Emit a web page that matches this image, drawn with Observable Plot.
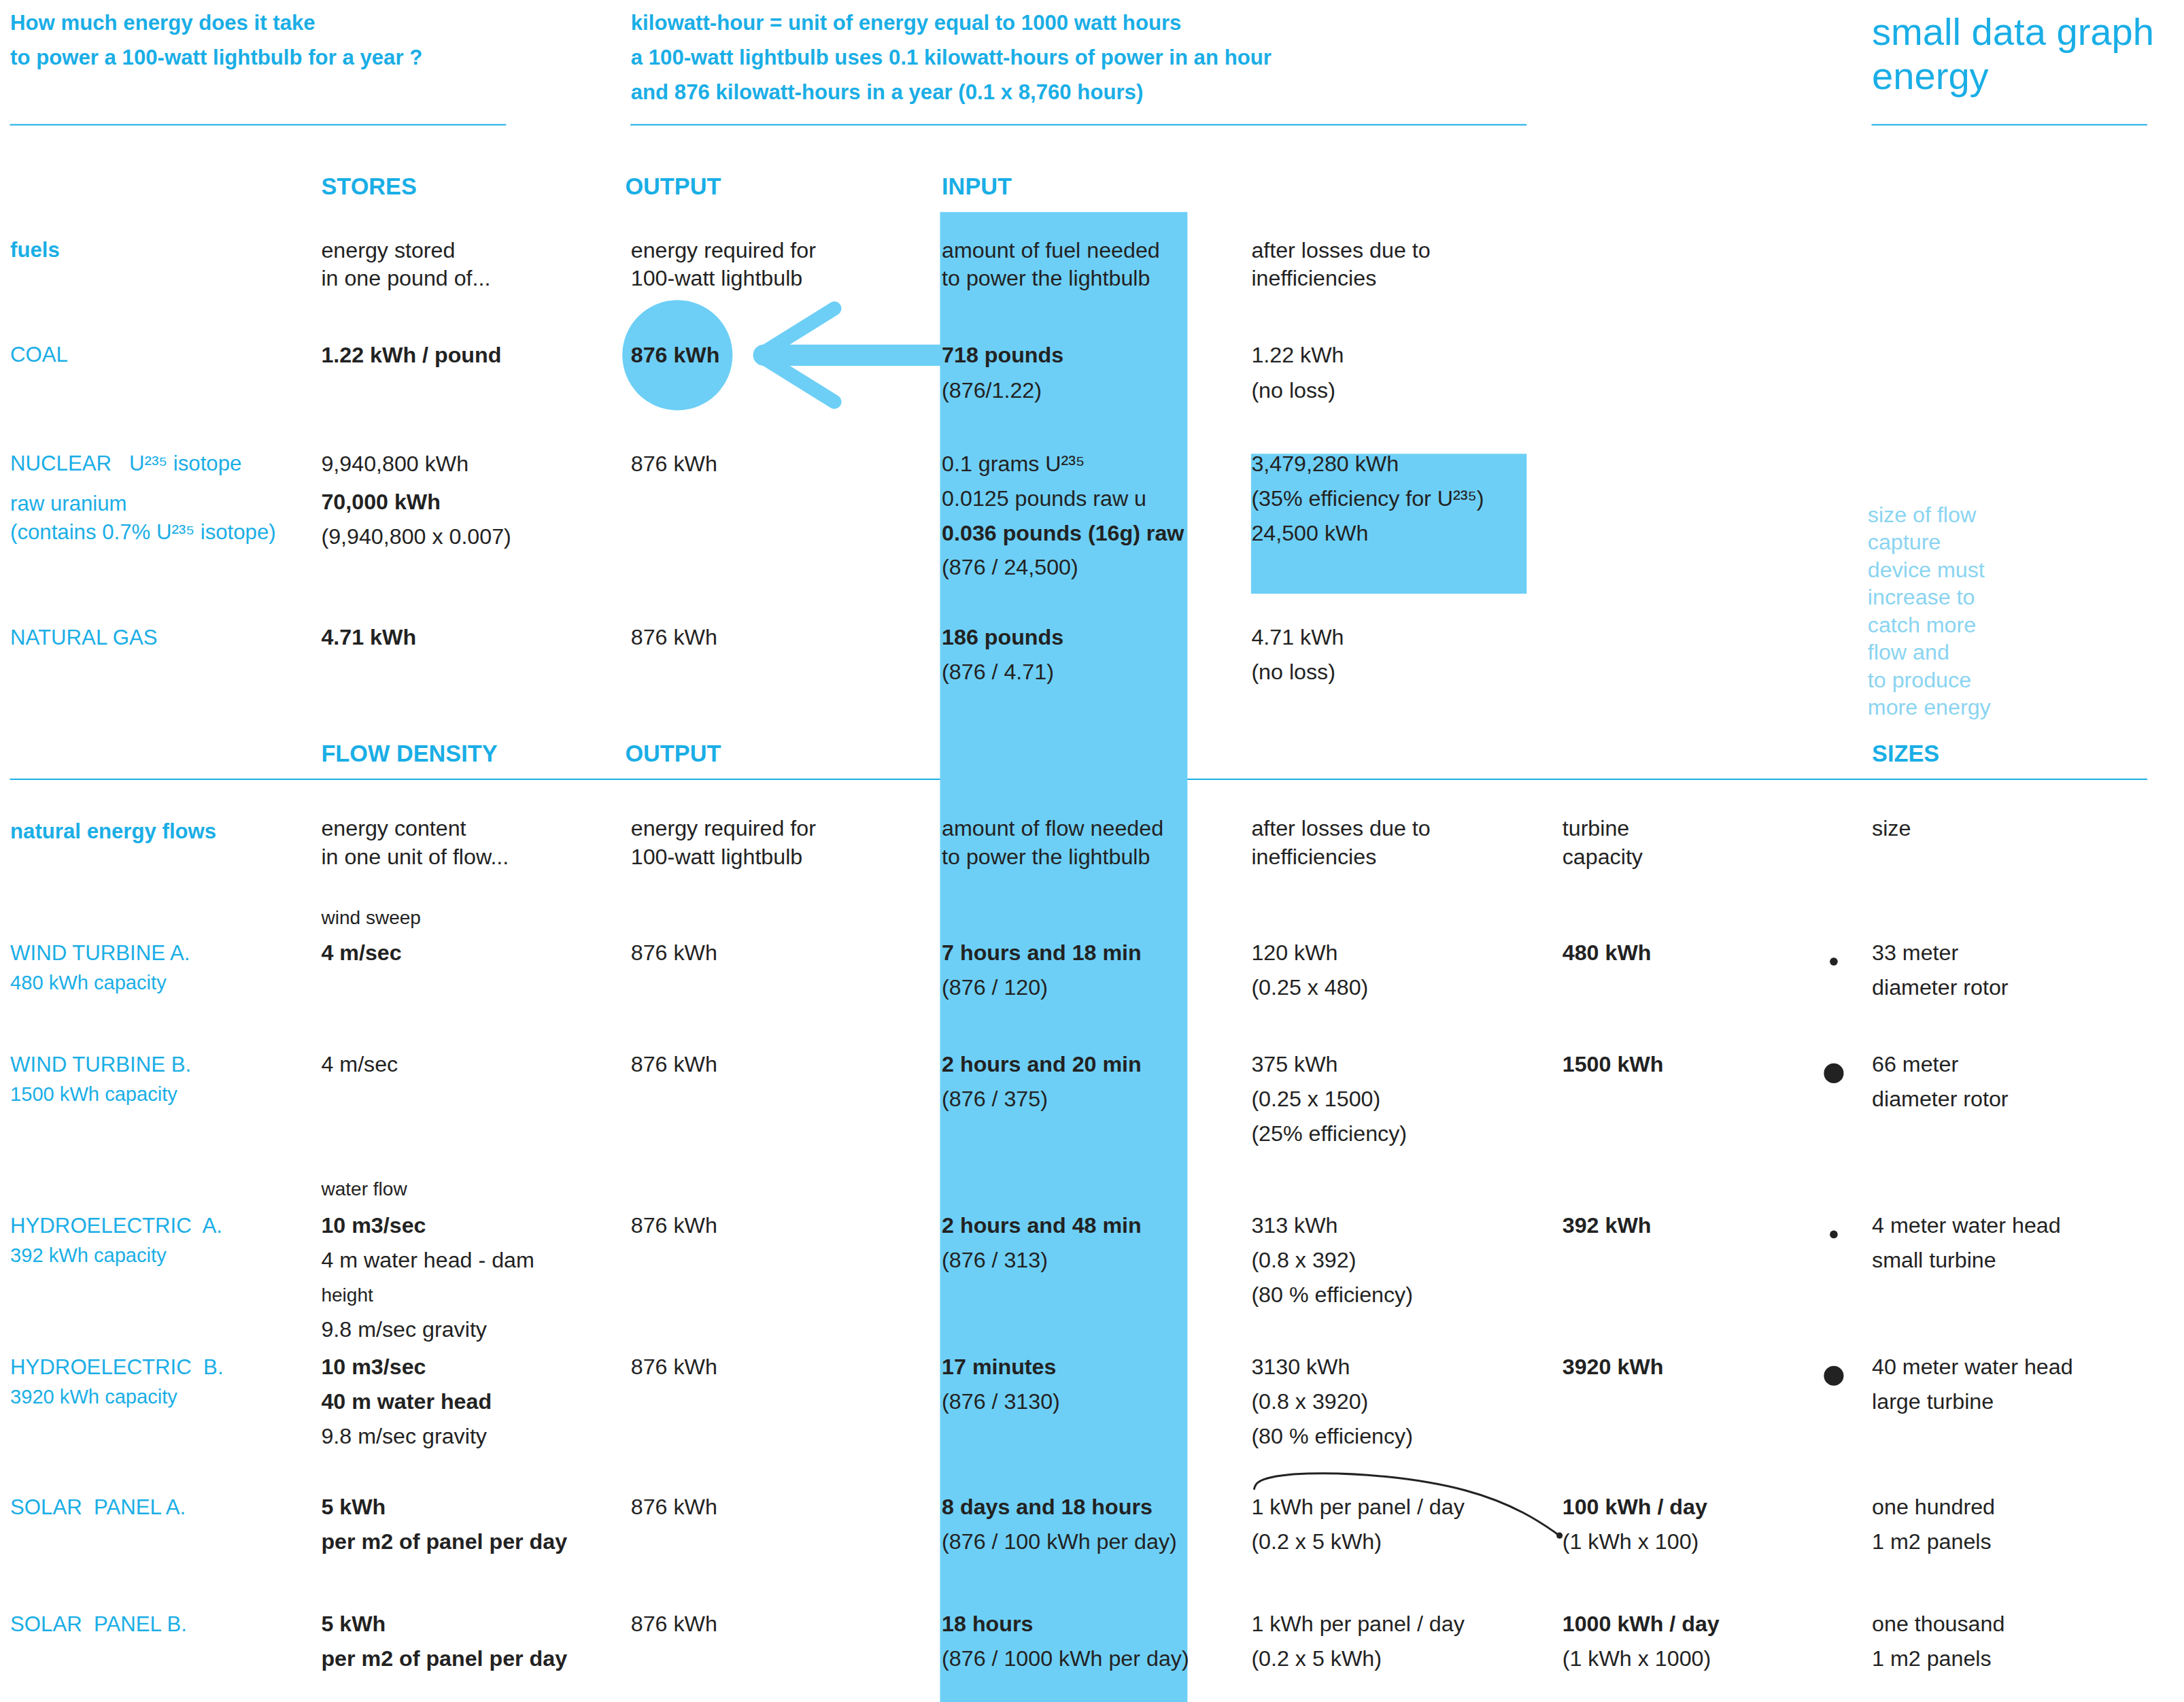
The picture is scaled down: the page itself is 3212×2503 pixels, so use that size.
<!DOCTYPE html>
<html>
<head>
<meta charset="utf-8">
<script src="https://cdn.jsdelivr.net/npm/d3@7"></script>
<script src="https://cdn.jsdelivr.net/npm/@observablehq/plot@0.6"></script>
<style>
  body { margin: 0; background: #fff; }
</style>
</head>
<body>
<div id="chart"></div>
<script>
// layout in a 1545-wide design space, scaled up to the page
const colX = {lab: 7, st: 227, out: 446, inp: 666, loss: 885, tur: 1105, size: 1324, side: 1321, mid: 446, outH: 442};
const rowY = {top: 16, hdr1: 132, r1: 177, coal: 251, nuc: 328, gas: 451, side: 364, hdr2: 533,
  r6: 586, ws: 649, wa: 674, wb: 753, wf: 841, ha: 867, hb: 967, sa: 1066, sb: 1149, brand: 23};
const rowGap = {top: 24.5, hdr1: 0, r1: 20, coal: 25, nuc: 24.5, gas: 24.5, side: 19.5, hdr2: 0,
  r6: 20, ws: 0, wa: 24.5, wb: 24.5, wf: 0, ha: 24.5, hb: 24.5, sa: 24.5, sb: 24.5, brand: 31};

// [row, column, line, text, kind]  kind: n normal, b bold, l blue label, lb blue bold, s small, t light blue
const cells = [
  ["top","lab",0,"How much energy does it take","lb"],
  ["top","lab",1,"to power a 100-watt lightbulb for a year ?","lb"],
  ["top","mid",0,"kilowatt-hour = unit of energy equal to 1000 watt hours","lb"],
  ["top","mid",1,"a 100-watt lightbulb uses 0.1 kilowatt-hours of power in an hour","lb"],
  ["top","mid",2,"and 876 kilowatt-hours in a year (0.1 x 8,760 hours)","lb"],
  ["hdr1","st",0,"STORES","hb"],["hdr1","outH",0,"OUTPUT","hb"],["hdr1","inp",0,"INPUT","hb"],
  ["r1","lab",0,"fuels","lb"],
  ["r1","st",0,"energy stored","n"],["r1","st",1,"in one pound of...","n"],
  ["r1","out",0,"energy required for","n"],["r1","out",1,"100-watt lightbulb","n"],
  ["r1","inp",0,"amount of fuel needed","n"],["r1","inp",1,"to power the lightbulb","n"],
  ["r1","loss",0,"after losses due to","n"],["r1","loss",1,"inefficiencies","n"],
  ["coal","lab",0,"COAL","l"],["coal","st",0,"1.22 kWh / pound","b"],["coal","out",0,"876 kWh","b"],
  ["coal","inp",0,"718 pounds","b"],["coal","inp",1,"(876/1.22)","n"],
  ["coal","loss",0,"1.22 kWh","n"],["coal","loss",1,"(no loss)","n"],
  ["nuc","lab",0,"NUCLEAR   U²³⁵ isotope","l"],["nuc","lab",1.15,"raw uranium","l"],["nuc","lab",1.97,"(contains 0.7% U²³⁵ isotope)","l"],
  ["nuc","st",0,"9,940,800 kWh","n"],["nuc","st",1.1,"70,000 kWh","b"],["nuc","st",2.1,"(9,940,800 x 0.007)","n"],
  ["nuc","out",0,"876 kWh","n"],
  ["nuc","inp",0,"0.1 grams U²³⁵","n"],["nuc","inp",1,"0.0125 pounds raw u","n"],
  ["nuc","inp",2,"0.036 pounds (16g) raw","b"],["nuc","inp",3,"(876 / 24,500)","n"],
  ["nuc","loss",0,"3,479,280 kWh","n"],["nuc","loss",1,"(35% efficiency for U²³⁵)","n"],["nuc","loss",2,"24,500 kWh","n"],
  ["gas","lab",0,"NATURAL GAS","l"],["gas","st",0,"4.71 kWh","b"],["gas","out",0,"876 kWh","n"],
  ["gas","inp",0,"186 pounds","b"],["gas","inp",1,"(876 / 4.71)","n"],
  ["gas","loss",0,"4.71 kWh","n"],["gas","loss",1,"(no loss)","n"],
  ["side","side",0,"size of flow","t"],["side","side",1,"capture","t"],["side","side",2,"device must","t"],
  ["side","side",3,"increase to","t"],["side","side",4,"catch more","t"],["side","side",5,"flow and","t"],
  ["side","side",6,"to produce","t"],["side","side",7,"more energy","t"],
  ["hdr2","st",0,"FLOW DENSITY","hb"],["hdr2","outH",0,"OUTPUT","hb"],["hdr2","size",-0.1,"SIZES","hb"],
  ["r6","lab",0.1,"natural energy flows","lb"],
  ["r6","st",0,"energy content","n"],["r6","st",1,"in one unit of flow...","n"],
  ["r6","out",0,"energy required for","n"],["r6","out",1,"100-watt lightbulb","n"],
  ["r6","inp",0,"amount of flow needed","n"],["r6","inp",1,"to power the lightbulb","n"],
  ["r6","loss",0,"after losses due to","n"],["r6","loss",1,"inefficiencies","n"],
  ["r6","tur",0,"turbine","n"],["r6","tur",1,"capacity","n"],["r6","size",0,"size","n"],
  ["ws","st",0,"wind sweep","s"],
  ["wa","lab",0,"WIND TURBINE A.","l"],["wa","lab",0.86,"480 kWh capacity","ls"],
  ["wa","st",0,"4 m/sec","b"],["wa","out",0,"876 kWh","n"],
  ["wa","inp",0,"7 hours and 18 min","b"],["wa","inp",1,"(876 / 120)","n"],
  ["wa","loss",0,"120 kWh","n"],["wa","loss",1,"(0.25 x 480)","n"],
  ["wa","tur",0,"480 kWh","b"],["wa","size",0,"33 meter","n"],["wa","size",1,"diameter rotor","n"],
  ["wb","lab",0,"WIND TURBINE B.","l"],["wb","lab",0.86,"1500 kWh capacity","ls"],
  ["wb","st",0,"4 m/sec","n"],["wb","out",0,"876 kWh","n"],
  ["wb","inp",0,"2 hours and 20 min","b"],["wb","inp",1,"(876 / 375)","n"],
  ["wb","loss",0,"375 kWh","n"],["wb","loss",1,"(0.25 x 1500)","n"],["wb","loss",2,"(25% efficiency)","n"],
  ["wb","tur",0,"1500 kWh","b"],["wb","size",0,"66 meter","n"],["wb","size",1,"diameter rotor","n"],
  ["wf","st",0,"water flow","s"],
  ["ha","lab",0,"HYDROELECTRIC  A.","l"],["ha","lab",0.86,"392 kWh capacity","ls"],
  ["ha","st",0,"10 m3/sec","b"],["ha","st",1,"4 m water head - dam","n"],["ha","st",2,"height","s"],["ha","st",3,"9.8 m/sec gravity","n"],
  ["ha","out",0,"876 kWh","n"],
  ["ha","inp",0,"2 hours and 48 min","b"],["ha","inp",1,"(876 / 313)","n"],
  ["ha","loss",0,"313 kWh","n"],["ha","loss",1,"(0.8 x 392)","n"],["ha","loss",2,"(80 % efficiency)","n"],
  ["ha","tur",0,"392 kWh","b"],["ha","size",0,"4 meter water head","n"],["ha","size",1,"small turbine","n"],
  ["hb","lab",0,"HYDROELECTRIC  B.","l"],["hb","lab",0.86,"3920 kWh capacity","ls"],
  ["hb","st",0,"10 m3/sec","b"],["hb","st",1,"40 m water head","b"],["hb","st",2,"9.8 m/sec gravity","n"],
  ["hb","out",0,"876 kWh","n"],
  ["hb","inp",0,"17 minutes","b"],["hb","inp",1,"(876 / 3130)","n"],
  ["hb","loss",0,"3130 kWh","n"],["hb","loss",1,"(0.8 x 3920)","n"],["hb","loss",2,"(80 % efficiency)","n"],
  ["hb","tur",0,"3920 kWh","b"],["hb","size",0,"40 meter water head","n"],["hb","size",1,"large turbine","n"],
  ["sa","lab",0,"SOLAR  PANEL A.","l"],
  ["sa","st",0,"5 kWh","b"],["sa","st",1,"per m2 of panel per day","b"],["sa","out",0,"876 kWh","n"],
  ["sa","inp",0,"8 days and 18 hours","b"],["sa","inp",1,"(876 / 100 kWh per day)","n"],
  ["sa","loss",0,"1 kWh per panel / day","n"],["sa","loss",1,"(0.2 x 5 kWh)","n"],
  ["sa","tur",0,"100 kWh / day","b"],["sa","tur",1,"(1 kWh x 100)","n"],
  ["sa","size",0,"one hundred","n"],["sa","size",1,"1 m2 panels","n"],
  ["sb","lab",0,"SOLAR  PANEL B.","l"],
  ["sb","st",0,"5 kWh","b"],["sb","st",1,"per m2 of panel per day","b"],["sb","out",0,"876 kWh","n"],
  ["sb","inp",0,"18 hours","b"],["sb","inp",1,"(876 / 1000 kWh per day)","n"],
  ["sb","loss",0,"1 kWh per panel / day","n"],["sb","loss",1,"(0.2 x 5 kWh)","n"],
  ["sb","tur",0,"1000 kWh / day","b"],["sb","tur",1,"(1 kWh x 1000)","n"],
  ["sb","size",0,"one thousand","n"],["sb","size",1,"1 m2 panels","n"]
];
const brand = [["brand","size",0,"small data graph","normal"],["brand","size",1,"energy","bold"]];

// turbine size markers: [row, small/big]
const sizeDots = [["wa",1],["wb",2],["ha",1],["hb",2]];

const F = 3212 / 1545;
const BLUE = "#1aaee6", BAND = "#6dcff6", LIGHT = "#8ad4f1", INK = "#222";
const styles = {
  n: {fs: 15.5, fw: 400, fill: INK}, b: {fs: 15.5, fw: 700, fill: INK},
  s: {fs: 13.5, fw: 400, fill: INK}, l: {fs: 15, fw: 400, fill: BLUE},
  ls: {fs: 14, fw: 400, fill: BLUE}, lb: {fs: 15, fw: 700, fill: BLUE},
  hb: {fs: 16.5, fw: 700, fill: BLUE}, t: {fs: 15.5, fw: 400, fill: LIGHT}
};
const yOf = d => rowY[d[0]] + d[2] * rowGap[d[0]];

const textMarks = Object.entries(styles).map(([k, s]) =>
  Plot.text(cells.filter(d => d[4] === k), {
    x: d => colX[d[1]], y: yOf, text: d => d[3], textAnchor: "start", lineAnchor: "middle",
    fontSize: s.fs * F, fontWeight: s.fw, fill: s.fill, fontFamily: "Liberation Sans, Arial, sans-serif",
    letterSpacing: 0.4 * F
  }));

const rules = [[88, 7, 358], [88, 446, 1080], [88, 1324, 1519], [551, 7, 1519]];
const arrow = [[665, 251], [540, 251]];
const chevron = [[590, 218], [537, 251], [590, 284]];
const curve = [[887, 1053], [889, 1046], [920, 1041], [980, 1043], [1040, 1053], [1080, 1070], [1103, 1086]];

const chart = Plot.plot({
  width: 3212, height: 2503, margin: 0,
  x: {domain: [0, 1545], range: [0, 3212], axis: null},
  y: {domain: [0, 1204], range: [0, 2503], axis: null},
  r: {type: "identity"},
  marks: [
    Plot.ruleY(rules, {y: d => d[0], x1: d => d[1], x2: d => d[2], stroke: BLUE, strokeWidth: 2}),
    Plot.rect([[665, 840, 150, 1204], [885, 1080, 321, 420]], {x1: d => d[0], x2: d => d[1], y1: d => d[2], y2: d => d[3], fill: BAND}),
    Plot.dot([[479, 251]], {x: d => d[0], y: d => d[1], r: 39 * F, fill: BAND}),
    Plot.line(arrow, {x: d => d[0], y: d => d[1], stroke: BAND, strokeWidth: 15 * F}),
    Plot.line(chevron, {x: d => d[0], y: d => d[1], stroke: BAND, strokeWidth: 10 * F, strokeLinejoin: "miter"}),
    Plot.line(curve, {x: d => d[0], y: d => d[1], curve: "basis", stroke: INK, strokeWidth: 1.4 * F}),
    Plot.dot([[1103, 1086]], {x: d => d[0], y: d => d[1], r: 2.2 * F, fill: INK}),
    Plot.dot(sizeDots, {x: 1297, y: d => rowY[d[0]] + 6, r: d => (d[1] === 1 ? 2.8 : 7) * F, fill: INK}),
    ...textMarks,
    Plot.text(brand, {x: d => colX[d[1]], y: yOf, text: d => d[3], textAnchor: "start", lineAnchor: "middle",
      fontSize: 27 * F, fontWeight: d => d[4], fill: BLUE, fontFamily: "Liberation Sans, Arial, sans-serif", letterSpacing: 0.5 * F})
  ]
});
document.getElementById("chart").append(chart);
</script>
</body>
</html>
